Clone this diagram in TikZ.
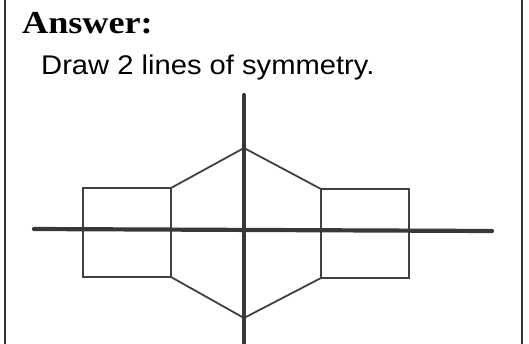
\documentclass[tikz,border=0pt]{standalone}
\usepackage{fontspec}
\setmainfont{Liberation Serif}
\setsansfont{Liberation Sans}
\usetikzlibrary{positioning}

\begin{document}
\begin{tikzpicture}[x=1pt, y=-1pt, outline/.style={draw=black!75, line width=1.8pt, line join=miter}, axis/.style={draw=black!78, line width=4.2pt, line cap=round}, frame/.style={draw=black!80, line width=1.6pt}]
\useasboundingbox (0,0) rectangle (529,343);

% frame and texts
\draw[frame] (5,-2) -- (5,346);
\draw[frame] (522,-2) -- (522,346);
\node[anchor=base west, inner sep=0pt, font=\bfseries\fontsize{32}{36}\selectfont] (title) at (22,33) {\scalebox{1.13}[1]{Answer:}};
\node[anchor=base west, inner sep=0pt, font=\sffamily\fontsize{27}{30}\selectfont] (task) at (41,74) {\scalebox{1.08}[1]{Draw 2 lines of symmetry.}};

% the figure
\coordinate (top) at (244,148);
\coordinate (bot) at (244,318);
\coordinate (lt) at (171,188);
\coordinate (lb) at (171,277);
\coordinate (rt) at (321,189);
\coordinate (rb) at (321,278);
\draw[outline] (lt) -- (top) -- (rt) -- (rb) -- (bot) -- (lb) -- cycle;
\draw[outline] (lt) -- (83,188) -- (83,277) -- (lb);
\draw[outline] (rt) -- (409,189) -- (409,278) -- (rb);

% lines of symmetry
\coordinate (vup) at (244,95);
\coordinate (vdown) at (244,350);
\coordinate (hleft) at (34,229);
\coordinate (hright) at (492,231);
\draw[axis] (vup) -- (vdown);
\draw[axis] (hleft) -- (hright);
\end{tikzpicture}
\end{document}
